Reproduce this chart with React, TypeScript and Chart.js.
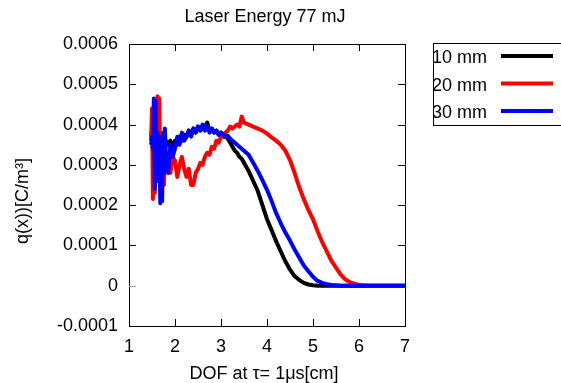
import { useEffect, useRef } from 'react';
import { Chart, registerables } from 'chart.js';

Chart.register(...registerables);

const FONT = '"Liberation Sans", Arial, Helvetica, sans-serif';

const title = 'Laser Energy 77 mJ';
const xTitle = 'DOF at τ= 1μs[cm]';
const yTitle = 'q(x))[C/m³]';
const seriesNames = ['10 mm', '20 mm', '30 mm'];
const seriesColors = ['#000000', '#ff0000', '#0000ff'];
const xTickLabels = ['1', '2', '3', '4', '5', '6', '7'];
const yTickLabels = ['-0.0001', '0', '0.0001', '0.0002', '0.0003', '0.0004', '0.0005', '0.0006'];

// depth of field positions [cm]
const xs = [
  1.48, 1.50, 1.52, 1.54, 1.56, 1.58, 1.60, 1.62, 1.64, 1.66, 1.68, 1.70, 1.72, 1.74, 1.76, 1.78, 1.80,
  1.85, 1.90, 1.95, 2.00, 2.05, 2.10, 2.15, 2.20, 2.25, 2.30, 2.35, 2.40, 2.45, 2.50, 2.55, 2.60, 2.65,
  2.70, 2.75, 2.80, 2.85, 2.90, 2.95, 3.00, 3.05, 3.10, 3.15, 3.20, 3.25, 3.30, 3.35, 3.40, 3.45, 3.50,
  3.6, 3.7, 3.8, 3.9, 4.0, 4.1, 4.2, 4.3, 4.4, 4.5, 4.6, 4.7, 4.8, 4.9, 5.0, 5.1, 5.2, 5.3, 5.4, 5.5,
  5.6, 5.7, 5.8, 5.9, 6.0, 6.1, 6.2, 6.3, 6.4, 6.5, 6.6, 6.7, 6.8, 6.9, 7.0,
];

// values in units of 1e-4 C/m^3
const mm10 = [
  3.7, 3.9, 3.4, 3.0, 4.1, 2.6, 3.8, 3.3, 2.8, 3.5, 3.2, 3.6, 3.4, 3.3, 3.6, 3.5, 3.6,
  3.5, 3.6, 3.4, 3.6, 3.5, 3.7, 3.6, 3.75, 3.7, 3.85, 3.75, 3.9, 3.8, 3.95, 3.85, 3.9, 3.95,
  4.05, 3.85, 3.9, 3.8, 3.85, 3.75, 3.8, 3.7, 3.7, 3.65, 3.55, 3.45, 3.35, 3.3, 3.2, 3.15, 3.05,
  2.85, 2.6, 2.35, 2.0, 1.65, 1.38, 1.1, 0.85, 0.6, 0.4, 0.24, 0.14, 0.07, 0.03, 0.01, 0, 0, 0, 0, 0,
  0, 0, 0, 0, 0, 0, 0, 0, 0, 0, 0, 0, 0, 0, 0,
];

const mm20 = [
  3.6, 4.4, 2.15, 4.3, 2.3, 3.4, 3.1, 4.7, 2.7, 4.65, 2.6, 3.6, 2.6, 3.3, 2.5, 3.2, 2.9,
  3.0, 2.8, 3.2, 3.1, 2.7, 3.0, 3.2, 2.9, 2.7, 2.9, 2.5, 2.5, 2.8, 2.9, 3.05, 3.0, 3.2,
  3.3, 3.25, 3.45, 3.4, 3.6, 3.55, 3.7, 3.75, 3.8, 3.85, 3.95, 3.9, 3.95, 4.0, 3.95, 4.2, 4.05,
  4.0, 3.95, 3.9, 3.85, 3.78, 3.68, 3.6, 3.5, 3.35, 3.12, 2.8, 2.45, 2.15, 1.88, 1.65, 1.35, 1.08, 0.85, 0.62, 0.45,
  0.28, 0.16, 0.09, 0.05, 0.02, 0.01, 0, 0, 0, 0, 0, 0, 0, 0, 0,
];

const mm30 = [
  3.5, 3.7, 3.4, 4.65, 2.4, 4.6, 2.6, 3.8, 3.1, 3.6, 2.05, 3.7, 2.1, 3.8, 2.8, 3.9, 3.3,
  2.8, 3.5, 3.2, 3.4, 3.7, 3.5, 3.8, 3.6, 3.7, 3.85, 3.7, 3.9, 3.8, 3.95, 3.85, 4.0, 3.85,
  3.95, 3.8, 3.9, 3.8, 3.85, 3.75, 3.8, 3.75, 3.7, 3.72, 3.65, 3.6, 3.55, 3.5, 3.45, 3.4, 3.35,
  3.25, 3.05, 2.85, 2.62, 2.38, 2.1, 1.8, 1.55, 1.32, 1.12, 0.9, 0.7, 0.5, 0.36, 0.22, 0.12, 0.07, 0.04, 0.02, 0.01,
  0, 0, 0, 0, 0, 0, 0, 0, 0, 0, 0, 0, 0, 0, 0,
];

const seriesValues = [mm10, mm20, mm30];

export default function App() {
  const ref = useRef<HTMLCanvasElement>(null);

  useEffect(() => {
    const canvas = ref.current;
    if (!canvas) return;
    const unit = 1e-4;
    const toPoints = (ys: number[]) => xs.map((x, i) => ({ x, y: ys[i] * unit }));

    const framePlugin = {
      id: 'framePlugin',
      beforeDatasetsDraw(chart: any) {
        const { ctx, chartArea: a, scales } = chart;
        const tl = 7;
        ctx.save();
        ctx.lineWidth = 1;
        ctx.strokeStyle = '#000';
        ctx.strokeRect(a.left + 0.5, a.top + 0.5, a.right - a.left, a.bottom - a.top);
        scales.x.ticks.forEach((t: any) => {
          const px = Math.round(scales.x.getPixelForValue(t.value)) + 0.5;
          ctx.beginPath();
          ctx.moveTo(px, a.bottom);
          ctx.lineTo(px, a.bottom - tl);
          ctx.moveTo(px, a.top);
          ctx.lineTo(px, a.top + tl);
          ctx.stroke();
        });
        scales.y.ticks.forEach((t: any) => {
          const py = Math.round(scales.y.getPixelForValue(t.value)) + 0.5;
          ctx.strokeStyle = Math.abs(t.value) < 1e-9 ? '#a0a0a0' : '#000';
          ctx.beginPath();
          ctx.moveTo(a.left, py);
          ctx.lineTo(a.left + tl, py);
          ctx.moveTo(a.right, py);
          ctx.lineTo(a.right - tl, py);
          ctx.stroke();
        });
        ctx.restore();
      },
      afterDraw(chart: any) {
        const { ctx } = chart;
        ctx.save();
        ctx.fillStyle = '#000';
        ctx.font = `18px ${FONT}`;
        ctx.textAlign = 'center';
        ctx.textBaseline = 'alphabetic';
        ctx.fillText(title, 265, 21.5);
        ctx.fillText(xTitle, 264, 379);
        ctx.save();
        ctx.translate(28, 201);
        ctx.rotate(-Math.PI / 2);
        ctx.fillText(yTitle, 0, 0);
        ctx.restore();

        // legend
        ctx.lineWidth = 1;
        ctx.strokeStyle = '#000';
        ctx.strokeRect(433.5, 43.5, 200, 82);
        ctx.textAlign = 'left';
        const baselines = [63, 91, 118];
        const lineYs = [56, 83.5, 111];
        seriesNames.forEach((name, i) => {
          ctx.fillStyle = '#000';
          ctx.fillText(name, 432, baselines[i]);
          ctx.strokeStyle = seriesColors[i];
          ctx.lineWidth = 4;
          ctx.beginPath();
          ctx.moveTo(501, lineYs[i]);
          ctx.lineTo(553, lineYs[i]);
          ctx.stroke();
        });
        ctx.restore();
      },
    };

    const chart = new Chart(canvas, {
      type: 'line',
      data: {
        datasets: seriesNames.map((name, i) => ({
          label: name,
          data: toPoints(seriesValues[i]),
          borderColor: seriesColors[i],
          backgroundColor: seriesColors[i],
          borderWidth: 4,
          pointRadius: 0,
          tension: 0,
          fill: false,
          borderJoinStyle: 'round' as const,
          order: 3 - i,
        })),
      },
      options: {
        responsive: false,
        animation: false,
        devicePixelRatio: 1,
        layout: { padding: { left: 0, top: 44, right: 156, bottom: 0 } },
        plugins: {
          legend: { display: false },
          title: { display: false },
          tooltip: { enabled: false },
        },
        scales: {
          x: {
            type: 'linear',
            min: 1,
            max: 7,
            grid: { display: false, drawTicks: false },
            border: { display: false },
            ticks: {
              stepSize: 1,
              padding: 10,
              color: '#000',
              font: { family: FONT, size: 18 },
              callback: (_v: any, i: number) => xTickLabels[i],
            },
            afterFit: (s: any) => {
              s.height = 57;
            },
          },
          y: {
            type: 'linear',
            min: -0.0001,
            max: 0.0006,
            grid: { display: false, drawTicks: false },
            border: { display: false },
            ticks: {
              stepSize: 0.0001,
              padding: 11,
              color: '#000',
              font: { family: FONT, size: 18 },
              callback: (_v: any, i: number) => yTickLabels[i],
            },
            afterFit: (s: any) => {
              s.width = 129;
            },
          },
        },
      },
      plugins: [framePlugin],
    });

    return () => chart.destroy();
  }, []);

  return (
    <div style={{ position: 'fixed', left: 0, top: 0, width: 561, height: 383, background: '#fff' }}>
      <canvas ref={ref} width={561} height={383} style={{ display: 'block', width: 561, height: 383 }} />
    </div>
  );
}
